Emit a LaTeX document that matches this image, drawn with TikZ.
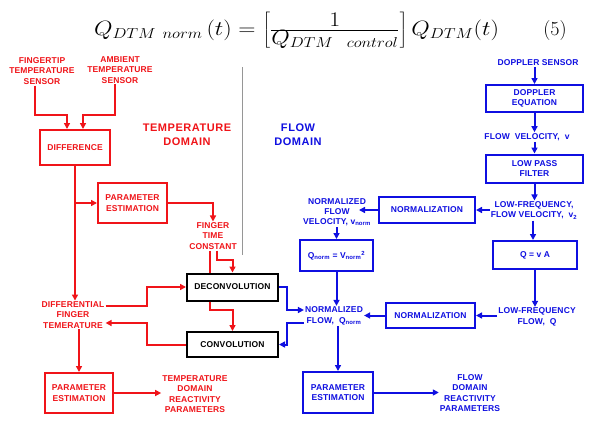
\documentclass[tikz,border=0pt]{standalone}
\usepackage{fontspec}
\setsansfont{Liberation Sans}[LetterSpace=1.5]
\newfontfamily\biglab{Liberation Sans}[LetterSpace=5]
\usetikzlibrary{arrows.meta}
\definecolor{tred}{RGB}{240,20,25}
\definecolor{tblue}{RGB}{15,15,225}
\definecolor{tgray}{RGB}{150,150,150}
\tikzset{
  txt/.style={font=\sffamily\bfseries\fontsize{8.5}{10.3}\selectfont, align=center, inner sep=1pt},
  rtxt/.style={txt, text=tred},
  btxt/.style={txt, text=tblue},
  rbox/.style={txt, text=tred, draw=tred, line width=2pt, fill=white},
  bbox/.style={txt, text=tblue, draw=tblue, line width=2pt, fill=white},
  kbox/.style={txt, text=black, draw=black, line width=2pt, fill=white},
  tip/.style={-{Triangle[length=6pt,width=6pt]}},
  rline/.style={draw=tred, line width=2pt},
  bline/.style={draw=tblue, line width=2pt},
  rarr/.style={rline, tip},
  barr/.style={bline, tip},
  eqfont/.style={inner sep=0, font=\fontsize{20}{24}\selectfont},
}
\begin{document}
\begin{tikzpicture}[x=1pt,y=-1pt]
\useasboundingbox (0,0) rectangle (601,420);
\fill[white] (0,0) rectangle (601,420);

% equation
\node[eqfont, anchor=base, xscale=1.15, transform shape] (eq) at (296.5,35)
  {$Q_{DTM\ norm}\,(t) = \left[\frac{\textstyle 1}{\textstyle Q_{DTM\ \ control}}\right] Q_{DTM}(t)$};
\node[eqfont, anchor=base] (eqn) at (555,35) {(5)};

% divider
\draw[tgray, line width=0.8pt] (242,67) coordinate (g1) -- (242,255) coordinate (g2);

% domain labels
\node[text=tred, font=\biglab\bfseries\fontsize{11}{14}\selectfont, align=center, inner sep=0] (tdom) at (187,135) {TEMPERATURE\\DOMAIN};
\node[text=tblue, font=\biglab\bfseries\fontsize{11}{14}\selectfont, align=center, inner sep=0] (fdom) at (298,135) {FLOW\\DOMAIN};

% red nodes
\node[rtxt] (ft) at (42,71) {FINGERTIP\\TEMPERATURE\\SENSOR};
\node[rtxt] (amb) at (120,70) {AMBIENT\\TEMPERATURE\\SENSOR};
\node[rbox, minimum width=70pt, minimum height=35pt] (diff) at (75,147.5) {DIFFERENCE};
\node[rbox, minimum width=69pt, minimum height=40pt] (pe1) at (132.5,203) {PARAMETER\\ESTIMATION};
\node[rtxt] (ftc) at (213,236) {FINGER\\TIME\\CONSTANT};
\node[kbox, minimum width=91pt, minimum height=27pt] (deconv) at (232.5,287) {DECONVOLUTION};
\node[kbox, minimum width=91pt, minimum height=25pt] (conv) at (232.5,344.5) {CONVOLUTION};
\node[rtxt] (dft) at (73,315) {DIFFERENTIAL\\FINGER\\TEMERATURE};
\node[rbox, minimum width=68pt, minimum height=40pt] (pe2) at (79,393) {PARAMETER\\ESTIMATION};
\node[rtxt] (tdrp) at (195,394) {TEMPERATURE\\DOMAIN\\REACTIVITY\\PARAMETERS};

% blue nodes
\node[btxt] (ds) at (538,63) {DOPPLER SENSOR};
\node[bbox, minimum width=97pt, minimum height=27pt] (deq) at (534.5,98.5) {DOPPLER\\EQUATION};
\node[btxt] (fv) at (527,137) {FLOW\ \ VELOCITY,\ \ v};
\node[bbox, minimum width=97pt, minimum height=28pt] (lpf) at (534.5,168.5) {LOW PASS\\FILTER};
\node[btxt] (lfv) at (534,210.5) {LOW-FREQUENCY,\\FLOW VELOCITY,\ \ v\textsubscript{2}};
\node[bbox, minimum width=96pt, minimum height=26pt] (norm1) at (427,210) {NORMALIZATION};
\node[btxt] (nfv) at (337,212) {NORMALIZED\\FLOW\\VELOCITY, v\textsubscript{norm}};
\node[bbox, minimum width=73pt, minimum height=31pt] (qn) at (336.5,255.5) {Q\textsubscript{norm} = V\textsubscript{norm}\textsuperscript{2}};
\node[bbox, minimum width=84pt, minimum height=28pt] (qva) at (535,255) {Q = v A};
\node[btxt] (lfq) at (537,317) {LOW-FREQUENCY\\FLOW,\ \ Q};
\node[bbox, minimum width=89pt, minimum height=25pt] (norm2) at (430.5,315.5) {NORMALIZATION};
\node[btxt] (nfq) at (334,316) {NORMALIZED\\FLOW,\ \ Q\textsubscript{norm}};
\node[bbox, minimum width=70pt, minimum height=41pt] (pe3) at (338,392.5) {PARAMETER\\ESTIMATION};
\node[btxt] (fdrp) at (470,393) {FLOW\\DOMAIN\\REACTIVITY\\PARAMETERS};

% red connectors
\draw[rarr] (ft.south -| 35,0) |- (67,115) -- (67,115 |- diff.north);
\draw[rarr] (amb.south -| 115,0) |- (83,115) -- (83,115 |- diff.north);
\draw[rarr] (diff.south) -- (diff.south |- dft.north);
\draw[rarr] (diff.south |- pe1.west) -- (pe1.west);
\draw[rarr] (pe1.east) -| (ftc.north);
\draw[rline] (ftc.south -| 210,0) -- (deconv.north -| 210,0);
\draw[rarr] (ftc.south -| 217,0) |- (deconv.north |- 0,260) -- (deconv.north);
\draw[rarr] (deconv.south -| 210,0) |- (conv.north |- 0,310) -- (conv.north);
\draw[rarr] (dft.east |- 0,306) -- (147,306) |- (deconv.west);
\draw[rarr] (conv.west) -- (conv.west -| 147,0) |- (dft.east |- 0,323);
\draw[rarr] (dft.south -| pe2.north) -- (pe2.north);
\draw[rarr] (pe2.east) -- (pe2.east -| tdrp.west);

% blue connectors
\draw[barr] (ds.south -| deq.north) -- (deq.north);
\draw[barr] (deq.south) -- (deq.south |- fv.north);
\draw[barr] (fv.south -| lpf.north) -- (lpf.north);
\draw[barr] (lpf.south) -- (lpf.south |- lfv.north);
\draw[barr] (lfv.west |- norm1.east) -- (norm1.east);
\draw[barr] (norm1.west) -- (norm1.west -| 359,0);
\draw[barr] (nfv.south -| qn.north) -- (qn.north);
\draw[barr] (qn.south) -- (qn.south |- nfq.north);
\draw[barr] (lfv.south -| 533,0) -- (qva.north -| 533,0);
\draw[barr] (qva.south) -- (qva.south |- lfq.north);
\draw[barr] (lfq.west |- norm2.east) -- (norm2.east);
\draw[barr] (norm2.west) -- (norm2.west -| nfq.east);
\draw[barr] (nfq.south -| pe3.north) -- (pe3.north);
\draw[barr] (pe3.east) -- (pe3.east -| fdrp.west);
\draw[barr] (deconv.east) -- (deconv.east -| 287,0) |- (nfq.west |- 0,310);
\draw[barr] (nfq.west |- 0,323) -- (287,323) |- (conv.east);
\end{tikzpicture}
\end{document}
